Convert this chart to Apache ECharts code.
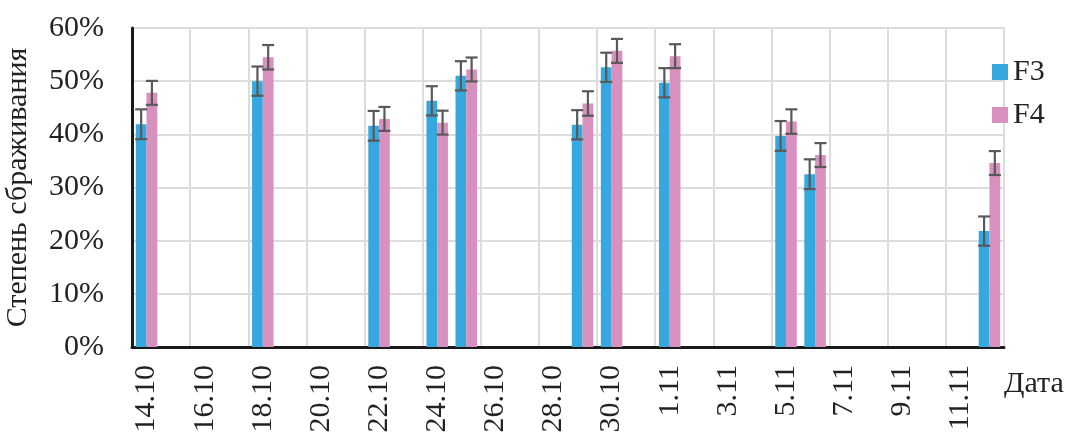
<!DOCTYPE html>
<html>
<head>
<meta charset="utf-8">
<script src="https://cdn.jsdelivr.net/npm/echarts@6/dist/echarts.min.js"></script>
<style>
html, body { margin: 0; padding: 0; background: #fff; }
#chart { width: 1069px; height: 436px; }
</style>
</head>
<body>
<div id="chart"></div>
<script>
// every day on the axis, 14.10 .. 12.11
var days = ['14.10', '15.10', '16.10', '17.10', '18.10', '19.10', '20.10', '21.10', '22.10', '23.10',
	'24.10', '25.10', '26.10', '27.10', '28.10', '29.10', '30.10', '31.10', '1.11', '2.11',
	'3.11', '4.11', '5.11', '6.11', '7.11', '8.11', '9.11', '10.11', '11.11', '12.11'];
// days with measurements
var measDays = ['14.10', '18.10', '22.10', '24.10', '25.10', '29.10', '30.10', '1.11', '5.11', '6.11', '12.11'];
var f3 = [41.9, 50.0, 41.6, 46.3, 51.0, 41.8, 52.6, 49.7, 39.7, 32.5, 21.8];
var f4 = [47.8, 54.5, 42.9, 42.2, 52.2, 45.8, 55.7, 54.7, 42.4, 36.1, 34.6];
var f3Err = [2.8, 2.75, 2.8, 2.75, 2.75, 2.75, 2.75, 2.75, 2.8, 2.8, 2.75];
var f4Err = [2.25, 2.3, 2.25, 2.25, 2.25, 2.3, 2.25, 2.25, 2.3, 2.25, 2.25];

var font = "'Liberation Serif', 'Times New Roman', serif";
var fs = 30;

function fullSeries(vals) {
	return days.map(function (d) {
		var i = measDays.indexOf(d);
		return i >= 0 ? vals[i] : null;
	});
}

function errorSeries(vals, errs, side) {
	return {
		type: 'custom',
		z: 5,
		silent: true,
		encode: { x: 0, y: 1 },
		data: measDays.map(function (d, i) { return [d, vals[i], errs[i]]; }),
		renderItem: function (params, api) {
			var cat = api.value(0);
			var v = api.value(1);
			var e = api.value(2);
			var bw = api.size([1, 0])[0];
			var x = api.coord([cat, v])[0] + side * bw * 0.185;
			var hi = api.coord([cat, v + e])[1];
			var lo = api.coord([cat, v - e])[1];
			var st = { stroke: '#595959', lineWidth: 2.2 };
			return {
				type: 'group',
				children: [
					{ type: 'line', shape: { x1: x, y1: hi, x2: x, y2: lo }, style: st },
					{ type: 'line', shape: { x1: x - 6, y1: hi, x2: x + 6, y2: hi }, style: st },
					{ type: 'line', shape: { x1: x - 6, y1: lo, x2: x + 6, y2: lo }, style: st }
				]
			};
		}
	};
}

var chart = echarts.init(document.getElementById('chart'));
chart.setOption({
	animation: false,
	textStyle: { fontFamily: font },
	grid: { left: 132, right: 65, top: 28, bottom: 89, outerBoundsMode: 'none' },
	legend: {
		data: ['F3', 'F4'],
		orient: 'vertical',
		left: 987,
		top: 52,
		padding: 5,
		itemWidth: 16,
		itemHeight: 16,
		itemGap: 13,
		icon: 'rect',
		textStyle: { fontFamily: font, fontSize: fs, color: '#222' }
	},
	xAxis: {
		type: 'category',
		data: days,
		name: 'Дата',
		nameLocation: 'end',
		nameGap: 0,
		nameTextStyle: { fontFamily: font, fontSize: fs, color: '#222', verticalAlign: 'top', padding: [22, 0, 0, 0] },
		axisLine: { lineStyle: { color: '#1a1a1a', width: 3 } },
		axisTick: { show: false },
		axisLabel: { interval: 1, rotate: 90, margin: 18, fontFamily: font, fontSize: fs, color: '#222' },
		splitLine: { show: true, interval: 1, lineStyle: { color: '#dcdcdc', width: 2 } }
	},
	yAxis: {
		type: 'value',
		min: 0,
		max: 60,
		interval: 10,
		name: 'Степень сбраживания',
		nameLocation: 'middle',
		nameGap: 99,
		nameTextStyle: { fontFamily: font, fontSize: fs, color: '#222' },
		axisLine: { show: true, lineStyle: { color: '#1a1a1a', width: 3 } },
		axisTick: { show: false },
		axisLabel: { formatter: '{value}%', margin: 28, fontFamily: font, fontSize: fs, color: '#222' },
		splitLine: { lineStyle: { color: '#dcdcdc', width: 2 } }
	},
	series: [
		{ name: 'F3', type: 'bar', data: fullSeries(f3), barWidth: '37%', barGap: '0%', itemStyle: { color: '#35a9df' } },
		{ name: 'F4', type: 'bar', data: fullSeries(f4), barWidth: '37%', barGap: '0%', itemStyle: { color: '#d891be' } },
		errorSeries(f3, f3Err, -1),
		errorSeries(f4, f4Err, 1)
	]
});
</script>
</body>
</html>
